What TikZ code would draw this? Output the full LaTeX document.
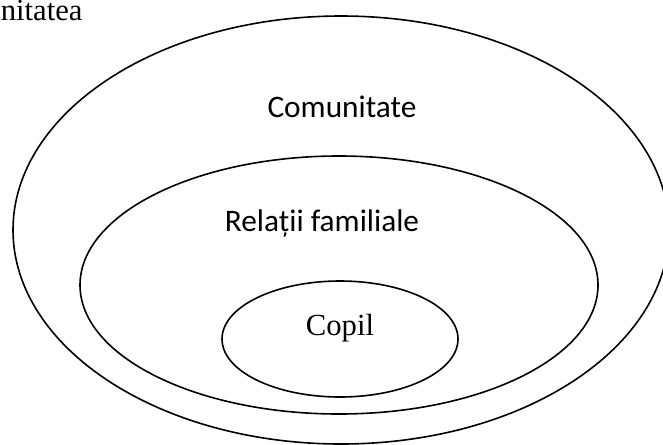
\documentclass[tikz,border=0pt]{standalone}
\usepackage{fontspec}
\setmainfont{Liberation Serif}
\newfontfamily\calibri{Carlito}
\usetikzlibrary{positioning}

\begin{document}
\begin{tikzpicture}[x=0.75pt,y=-0.75pt,line width=1.2pt,
    cerc/.style={draw=black},
    eticheta/.style={inner sep=0pt,font=\calibri\fontsize{23.5}{28}\selectfont},
    serif/.style={inner sep=0pt,font=\fontsize{23}{28}\selectfont}]
  \useasboundingbox (0,0) rectangle (663,444);
  \clip (0,0) rectangle (663,444);
  % cercurile
  \draw[cerc] (341,230) ellipse (328 and 214);
  \draw[cerc] (339,285) ellipse (259 and 129);
  \draw[cerc] (340,339) ellipse (118 and 58);
  % texte
  \node[serif,anchor=base west] (titlu) at (0,20) {nitatea};
  \node[eticheta,anchor=base] (comunitate) at (342,117) {Comunitate};
  \node[eticheta,anchor=base] (relatii) at (322,231) {Relații familiale};
  \node[serif,anchor=base] (copil) at (340,335) {Copil};
\end{tikzpicture}
\end{document}
